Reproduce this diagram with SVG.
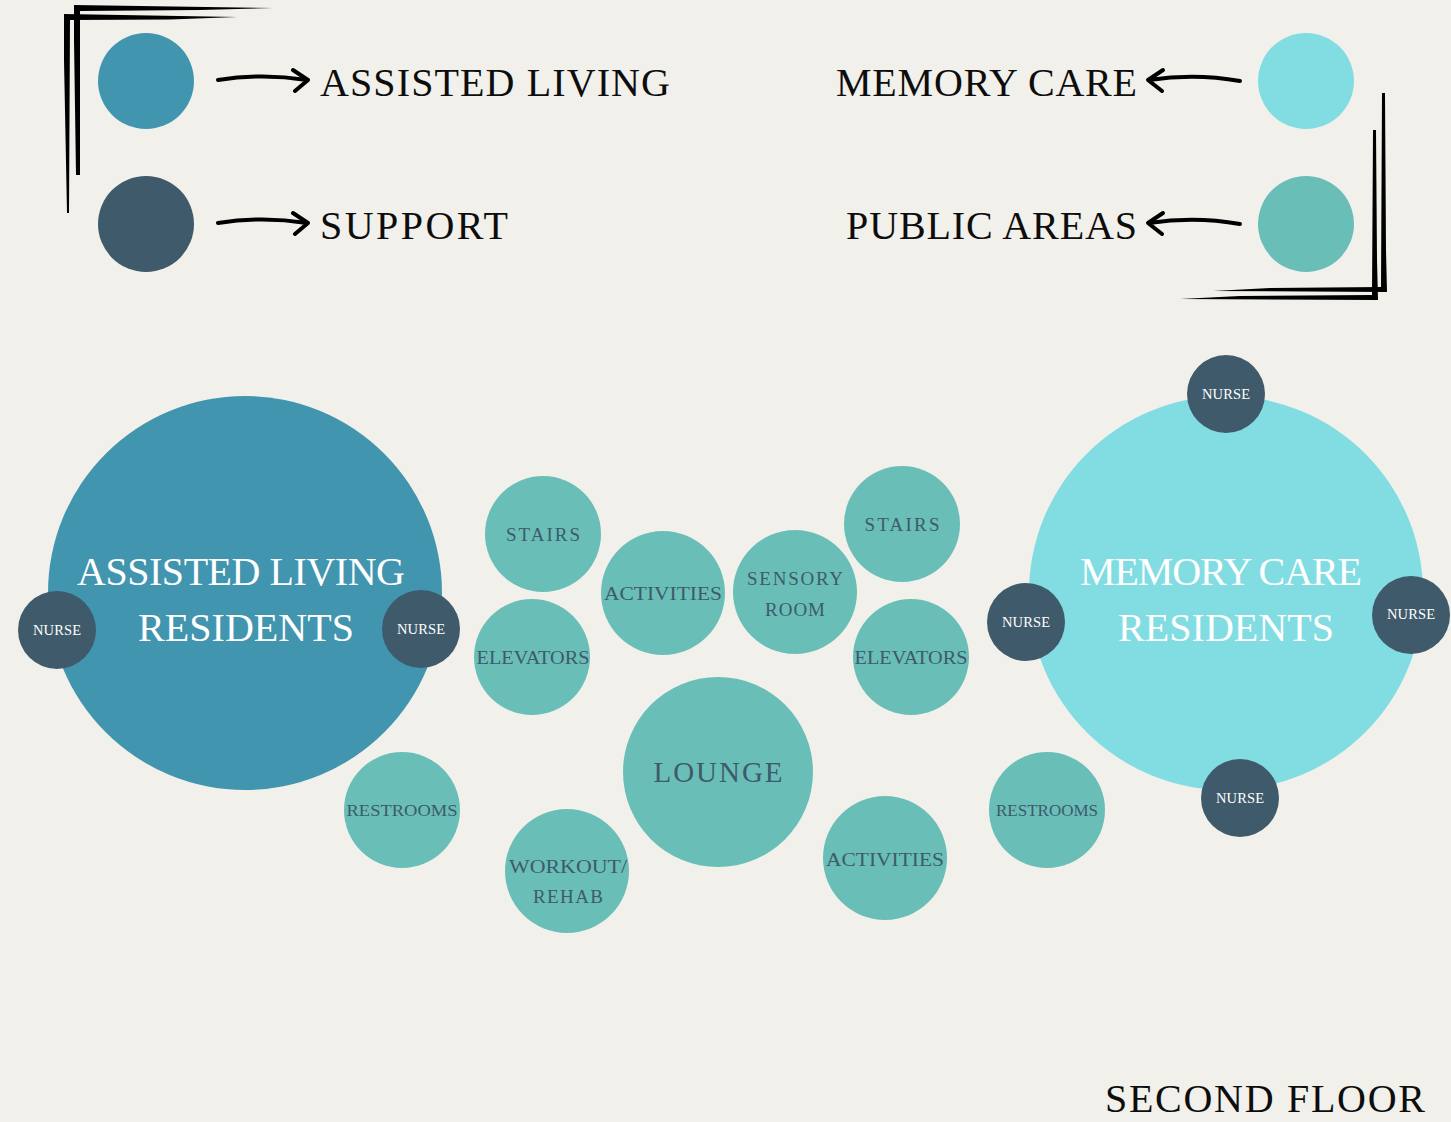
<svg xmlns="http://www.w3.org/2000/svg" width="1451" height="1122" viewBox="0 0 1451 1122">
<style>
.al{fill:#4295AF}.sup{fill:#3E5A6B}.mc{fill:#82DDE3}.pub{fill:#69BFB8}
text{font-family:"Liberation Serif","DejaVu Serif",serif;text-anchor:middle}
.leg{font-size:40px;fill:#0d0d0d;text-anchor:start}
.big{font-size:40px;fill:#ffffff}
.sm{font-size:19px;fill:#3E5A6B}
.nu{font-size:14.5px;fill:#ffffff}
.arr{fill:none;stroke:#000;stroke-width:4;stroke-linecap:round;stroke-linejoin:round}
.brush{fill:#000}
</style>
<rect width="1451" height="1122" fill="#F1F0EA"/>

<g id="legend-frames">
<path class="brush" d="M74,5 L273,8 L200,10 L80,11 L80,175 L76,175 L74,40 Z"/>
<path class="brush" d="M64,14 L237,17 L170,19.5 L70,20 L69,213 L67,213 L64,60 Z"/>
<path class="brush" d="M1387,292 L1213,291 L1270,288 L1381,287 L1382,93 L1385,93 L1386,250 Z"/>
<path class="brush" d="M1378,300 L1180,299 L1240,296 L1372,295 L1373,130 L1376,130 L1377,260 Z"/>
</g>

<g id="legend-assisted"><circle class="al" cx="146" cy="81" r="48"/><text class="leg" x="320" y="96" textLength="350" lengthAdjust="spacing">ASSISTED LIVING</text></g>
<g id="legend-support"><circle class="sup" cx="146" cy="224" r="48"/><text class="leg" x="320" y="239" textLength="188" lengthAdjust="spacing">SUPPORT</text></g>
<g id="legend-memory"><circle class="mc" cx="1306" cy="81" r="48"/><text class="leg" x="836" y="96" textLength="301" lengthAdjust="spacing">MEMORY CARE</text></g>
<g id="legend-public"><circle class="pub" cx="1306" cy="224" r="48"/><text class="leg" x="846" y="239" textLength="291" lengthAdjust="spacing">PUBLIC AREAS</text></g>

<g id="connectors">
<path class="arr" d="M218,80 Q262,73 307,80 M293,70 L308,80 L295,91"/>
<path class="arr" d="M218,223 Q262,216 307,223 M293,213 L308,223 L295,234"/>
<path class="arr" d="M1240,81 Q1195,73 1149,80 M1163,70 L1148,80 L1162,91"/>
<path class="arr" d="M1240,224 Q1195,216 1149,223 M1163,213 L1148,223 L1162,234"/>
</g>

<g id="assisted-living-residents"><circle class="al" cx="245" cy="593" r="197"/><text class="big" x="241" y="585" textLength="328" lengthAdjust="spacing">ASSISTED LIVING</text><text class="big" x="246" y="641" textLength="216" lengthAdjust="spacing">RESIDENTS</text></g>
<g id="memory-care-residents"><circle class="mc" cx="1226" cy="593" r="197"/><text class="big" x="1221" y="585" textLength="282" lengthAdjust="spacing">MEMORY CARE</text><text class="big" x="1226" y="641" textLength="216" lengthAdjust="spacing">RESIDENTS</text></g>

<g id="nurse-al-left"><circle class="sup" cx="57" cy="630" r="39"/><text class="nu" x="57" y="635" textLength="48" lengthAdjust="spacing">NURSE</text></g>
<g id="nurse-al-right"><circle class="sup" cx="421" cy="629" r="39"/><text class="nu" x="421" y="634" textLength="48" lengthAdjust="spacing">NURSE</text></g>
<g id="nurse-mc-top"><circle class="sup" cx="1226" cy="394" r="39"/><text class="nu" x="1226" y="399" textLength="48" lengthAdjust="spacing">NURSE</text></g>
<g id="nurse-mc-left"><circle class="sup" cx="1026" cy="622" r="39"/><text class="nu" x="1026" y="627" textLength="48" lengthAdjust="spacing">NURSE</text></g>
<g id="nurse-mc-right"><circle class="sup" cx="1411" cy="615" r="39"/><text class="nu" x="1411" y="619" textLength="48" lengthAdjust="spacing">NURSE</text></g>
<g id="nurse-mc-bottom"><circle class="sup" cx="1240" cy="798" r="39"/><text class="nu" x="1240" y="803" textLength="48" lengthAdjust="spacing">NURSE</text></g>

<g id="stairs-left"><circle class="pub" cx="543" cy="534" r="58"/><text class="sm" x="543" y="541" textLength="74" lengthAdjust="spacing">STAIRS</text></g>
<g id="elevators-left"><circle class="pub" cx="532" cy="657" r="58"/><text class="sm" x="533" y="664" textLength="113" lengthAdjust="spacingAndGlyphs">ELEVATORS</text></g>
<g id="activities-top"><circle class="pub" cx="663" cy="593" r="62"/><text class="sm" x="663" y="600" textLength="118" lengthAdjust="spacingAndGlyphs">ACTIVITIES</text></g>
<g id="sensory-room"><circle class="pub" cx="795" cy="592" r="62"/><text class="sm" x="795" y="585" textLength="96" lengthAdjust="spacing">SENSORY</text><text class="sm" x="795" y="616" textLength="60" lengthAdjust="spacing">ROOM</text></g>
<g id="stairs-right"><circle class="pub" cx="902" cy="524" r="58"/><text class="sm" x="902" y="531" textLength="75" lengthAdjust="spacing">STAIRS</text></g>
<g id="elevators-right"><circle class="pub" cx="911" cy="657" r="58"/><text class="sm" x="911" y="664" textLength="113" lengthAdjust="spacingAndGlyphs">ELEVATORS</text></g>
<g id="lounge"><circle class="pub" cx="718" cy="772" r="95"/><text class="sm" x="718" y="782" style="font-size:29px" textLength="129" lengthAdjust="spacing">LOUNGE</text></g>
<g id="restrooms-left"><circle class="pub" cx="402" cy="810" r="58"/><text class="sm" x="402" y="816" style="font-size:17px" textLength="111" lengthAdjust="spacingAndGlyphs">RESTROOMS</text></g>
<g id="workout-rehab"><circle class="pub" cx="567" cy="871" r="62"/><text class="sm" x="568" y="873" textLength="118" lengthAdjust="spacingAndGlyphs">WORKOUT/</text><text class="sm" x="568" y="903" textLength="70" lengthAdjust="spacing">REHAB</text></g>
<g id="activities-bottom"><circle class="pub" cx="885" cy="858" r="62"/><text class="sm" x="885" y="866" textLength="118" lengthAdjust="spacingAndGlyphs">ACTIVITIES</text></g>
<g id="restrooms-right"><circle class="pub" cx="1047" cy="810" r="58"/><text class="sm" x="1047" y="816" style="font-size:17px" textLength="102" lengthAdjust="spacingAndGlyphs">RESTROOMS</text></g>

<text class="leg" x="1105" y="1112" textLength="320" lengthAdjust="spacing">SECOND FLOOR</text>
</svg>
